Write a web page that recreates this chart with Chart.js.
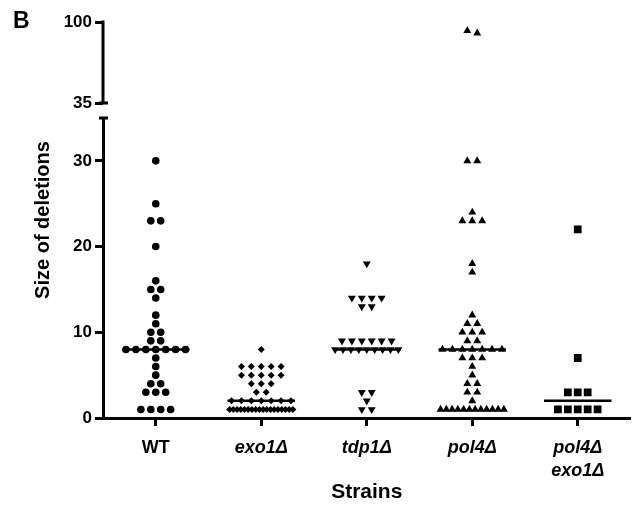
<!DOCTYPE html>
<html>
<head>
<meta charset="utf-8">
<script src="https://cdn.jsdelivr.net/npm/chart.js@4/dist/chart.umd.min.js"></script>
<style>
  body { margin: 0; background: #fff; }
  #wrap { width: 636px; height: 505px; }
</style>
</head>
<body>
<div id="wrap"><canvas id="grafica"></canvas></div>
<script>
// categorias (eje X)
const strains = ['WT', 'exo1Δ', 'tdp1Δ', 'pol4Δ', ['pol4Δ', 'exo1Δ']];

// tamaños de deleción
const wt = [30, 25, 23, 23, 20, 16, 15, 15, 14, 12, 11, 10, 10, 9, 9,
  8, 8, 8, 8, 8, 8, 8, 7, 6, 5, 4, 4, 3, 3, 3, 1, 1, 1, 1];
const exo1 = [8, 6, 6, 6, 6, 6, 5, 5, 5, 5, 5, 4, 4, 4, 3, 3,
  2, 2, 2, 2, 2, 2, 2, 1, 1, 1, 1, 1, 1, 1, 1, 1, 1, 1, 1, 1, 1, 1, 1, 1, 1];
const tdp1 = [18, 14, 14, 14, 14, 13, 13, 9, 9, 9, 9, 9, 9,
  8, 8, 8, 8, 8, 8, 8, 8, 8, 3, 3, 2, 1, 1];
const pol4 = [93, 91, 30, 30, 24, 23, 23, 23, 18, 17, 12, 11, 11, 10, 10, 10, 9, 9,
  8, 8, 8, 8, 8, 8, 8, 7, 7, 7, 6, 5, 4, 4, 3, 3, 2,
  1, 1, 1, 1, 1, 1, 1, 1, 1, 1, 1, 1];
const pol4exo1 = [22, 7, 3, 3, 3, 1, 1, 1, 1, 1];

const medians = [8, 2, 8, 8, 2];

// ticks del eje Y (tramo bajo y tramo alto)
const lowTicks = [0, 10, 20, 30];
const highTicks = [35, 100];
const breakAt = 35;

const groups = [wt, exo1, tdp1, pol4, pol4exo1];
const markers = [
  { style: 'circle', radius: 3.8, rotation: 0 },
  { style: 'rectRot', radius: 3.5, rotation: 0 },
  { style: 'triangle', radius: 4.6, rotation: 180 },
  { style: 'triangle', radius: 4.6, rotation: 0 },
  { style: 'rect', radius: 5.5, rotation: 0 }
];

// en el tramo alto la escala es más comprimida: se agrupan valores cercanos
const binOf = v => v > breakAt ? 'h' + Math.floor(v / 10) : v;

// reparte horizontalmente los puntos con el mismo valor
function spread(values, index) {
  let counts = {}, seen = {};
  values.forEach(v => counts[binOf(v)] = (counts[binOf(v)] || 0) + 1);
  return values.map(v => {
    let b = binOf(v);
    let n = counts[b];
    let k = seen[b] = (seen[b] === undefined ? 0 : seen[b] + 1);
    let step = n > 1 ? Math.min(0.094, 0.6 / (n - 1)) : 0;
    return { x: index + (k - (n - 1) / 2) * step, y: v };
  });
}

let datasets = [];
medians.forEach((m, i) => {
  datasets.push({
    type: 'line',
    data: [{ x: i - 0.32, y: m }, { x: i + 0.32, y: m }],
    yAxisID: 'yLow',
    borderColor: '#000',
    borderWidth: 2.5,
    pointRadius: 0,
    order: 0
  });
});
groups.forEach((vals, i) => {
  let pts = spread(vals, i);
  let mk = markers[i];
  let base = {
    type: 'scatter',
    pointStyle: mk.style,
    pointRadius: mk.radius,
    pointRotation: mk.rotation,
    backgroundColor: '#000',
    borderColor: '#000',
    borderWidth: 0,
    order: 1
  };
  datasets.push(Object.assign({}, base, { data: pts.filter(p => p.y <= breakAt), yAxisID: 'yLow' }));
  let high = pts.filter(p => p.y > breakAt);
  if (high.length) datasets.push(Object.assign({}, base, { data: high, yAxisID: 'yHigh' }));
});

const FONT = '"Liberation Sans", Arial, Helvetica, sans-serif';

const axisBreak = {
  id: 'axisBreak',
  afterDraw(chart) {
    const { ctx, chartArea, scales } = chart;
    const hi = scales.yHigh, lo = scales.yLow;
    const x = chartArea.left;
    ctx.save();
    ctx.strokeStyle = '#000';
    ctx.lineWidth = 3;
    ctx.beginPath();
    ctx.moveTo(x, hi.getPixelForValue(highTicks[1]) - 1.5);
    ctx.lineTo(x, hi.getPixelForValue(breakAt));
    ctx.moveTo(x - 4, hi.getPixelForValue(breakAt));
    ctx.lineTo(x + 5, hi.getPixelForValue(breakAt));
    ctx.moveTo(x - 4, lo.getPixelForValue(breakAt));
    ctx.lineTo(x + 5, lo.getPixelForValue(breakAt));
    ctx.stroke();

    ctx.fillStyle = '#000';
    ctx.font = 'bold 20px ' + FONT;
    ctx.textAlign = 'center';
    ctx.textBaseline = 'middle';
    ctx.save();
    ctx.translate(43, (chartArea.top + chartArea.bottom) / 2);
    ctx.rotate(-Math.PI / 2);
    ctx.fillText('Size of deletions', 0, 0);
    ctx.restore();

    ctx.font = 'bold 23px ' + FONT;
    ctx.textAlign = 'left';
    ctx.textBaseline = 'alphabetic';
    ctx.fillText('B', 13, 28);
    ctx.restore();
  }
};

const tickGrid = {
  drawOnChartArea: false,
  drawTicks: true,
  tickLength: 8,
  tickWidth: 3,
  tickColor: '#000'
};

let ctx = document.getElementById('grafica').getContext('2d');
let grafica = new Chart(ctx, {
  type: 'scatter',
  data: { datasets: datasets },
  plugins: [axisBreak],
  options: {
    responsive: true,
    maintainAspectRatio: false,
    animation: false,
    devicePixelRatio: 1,
    layout: { padding: { top: 22, right: 0, bottom: 0, left: 0 } },
    plugins: { legend: { display: false }, tooltip: { enabled: false } },
    scales: {
      x: {
        type: 'linear',
        min: -0.5,
        max: 4.5,
        afterBuildTicks: s => { s.ticks = strains.map((c, i) => ({ value: i })); },
        afterFit: s => { s.height = 87; },
        ticks: {
          callback: v => strains[v],
          color: '#000',
          padding: 10,
          font: c => ({ family: FONT, size: 18, weight: 'bold', lineHeight: 1.3,
            style: c.index === 0 ? 'normal' : 'italic' })
        },
        grid: tickGrid,
        border: { display: true, color: '#000', width: 3 },
        title: {
          display: true,
          text: 'Strains',
          color: '#000',
          font: { family: FONT, size: 21, weight: 'bold' },
          padding: { top: 0, bottom: 0 }
        }
      },
      yLow: {
        type: 'linear',
        position: 'left',
        stack: 'y',
        stackWeight: 300,
        min: 0,
        max: breakAt,
        afterBuildTicks: s => { s.ticks = lowTicks.map(v => ({ value: v })); },
        afterFit: s => { s.width = 103; },
        ticks: { color: '#000', padding: 3, font: { family: FONT, size: 17, weight: 'bold' } },
        grid: tickGrid,
        border: { display: true, color: '#000', width: 3 }
      },
      yHigh: {
        type: 'linear',
        position: 'left',
        stack: 'y',
        stackWeight: 96,
        min: 23,
        max: 100,
        afterBuildTicks: s => { s.ticks = highTicks.map(v => ({ value: v })); },
        afterFit: s => { s.width = 103; },
        ticks: { color: '#000', padding: 3, font: { family: FONT, size: 17, weight: 'bold' } },
        grid: tickGrid,
        border: { display: false }
      }
    }
  }
});
</script>
</body>
</html>
